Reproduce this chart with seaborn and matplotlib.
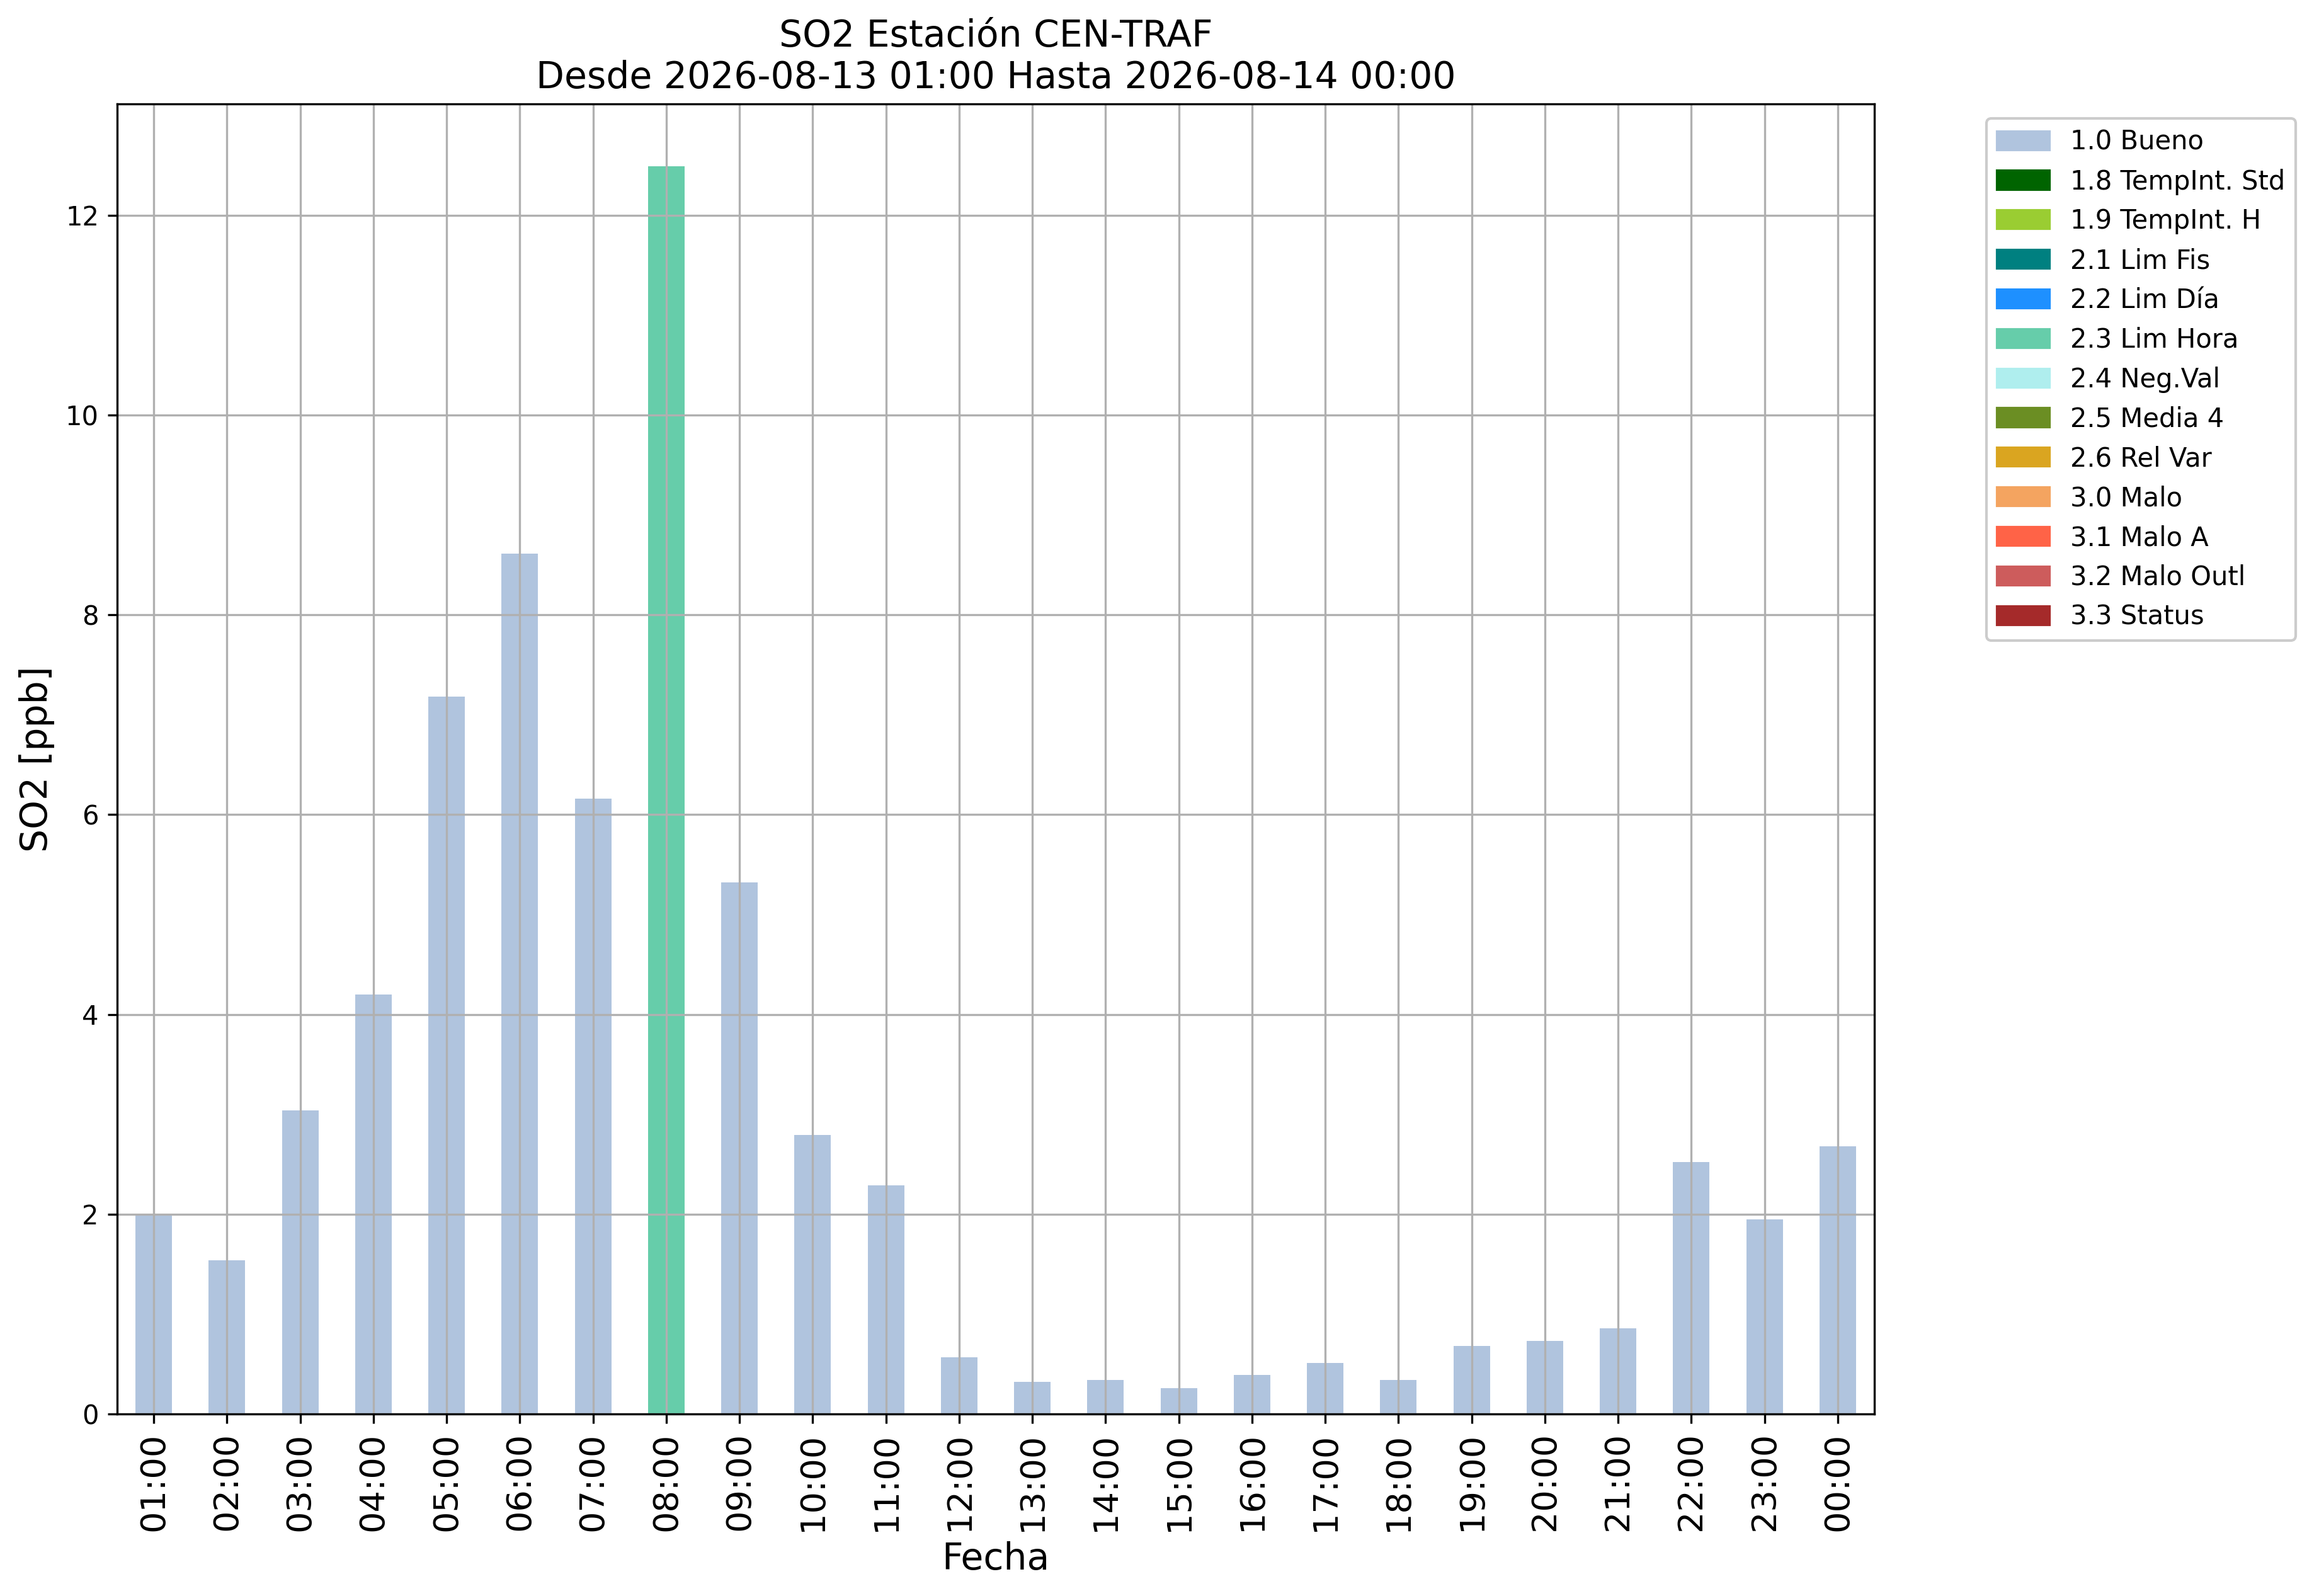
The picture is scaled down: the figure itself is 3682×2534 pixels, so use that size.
import matplotlib
matplotlib.use("Agg")
import matplotlib.pyplot as plt
import matplotlib.patches as mpatches
import pandas as pd
import seaborn as sns

# horas del periodo
horas = ["01:00", "02:00", "03:00", "04:00", "05:00", "06:00", "07:00", "08:00",
         "09:00", "10:00", "11:00", "12:00", "13:00", "14:00", "15:00", "16:00",
         "17:00", "18:00", "19:00", "20:00", "21:00", "22:00", "23:00", "00:00"]

so2 = [2.00, 1.54, 3.04, 4.20, 7.18, 8.61, 6.16, 12.49,
       5.32, 2.79, 2.29, 0.57, 0.32, 0.34, 0.26, 0.39,
       0.51, 0.34, 0.68, 0.73, 0.86, 2.52, 1.95, 2.68]

flags = ["1.0 Bueno"] * 7 + ["2.3 Lim Hora"] + ["1.0 Bueno"] * 16

etiquetas = ["1.0 Bueno", "1.8 TempInt. Std", "1.9 TempInt. H", "2.1 Lim Fis",
             "2.2 Lim Día", "2.3 Lim Hora", "2.4 Neg.Val", "2.5 Media 4",
             "2.6 Rel Var", "3.0 Malo", "3.1 Malo A", "3.2 Malo Outl", "3.3 Status"]

colores = ["lightsteelblue", "darkgreen", "yellowgreen", "teal",
           "dodgerblue", "mediumaquamarine", "paleturquoise", "olivedrab",
           "goldenrod", "sandybrown", "tomato", "indianred", "brown"]

df = pd.DataFrame({"Fecha": horas, "SO2": so2, "flag": flags})
paleta = dict(zip(etiquetas, colores))

W, H = 3682, 2534
fig = plt.figure(figsize=(W / 300, H / 300), dpi=300)
ax = fig.add_axes([186 / W, 1 - 2245 / H, (2976 - 186) / W, (2245 - 165) / H])

sns.barplot(data=df, x="Fecha", y="SO2", hue="flag", order=horas,
            hue_order=etiquetas, palette=paleta, dodge=False, width=0.5,
            saturation=1, legend=False, ax=ax)

ax.grid(True)
ax.set_xlim(-0.5, len(horas) - 0.5)
ax.tick_params(axis="x", labelrotation=90, labelsize=13)
ax.tick_params(axis="y", labelsize=10)
ax.set_xlabel("Fecha", fontsize=14)
ax.set_ylabel("SO2 [ppb]", fontsize=14)
ax.set_title("SO2 Estación CEN-TRAF\nDesde 2026-08-13 01:00 Hasta 2026-08-14 00:00",
             fontsize=14)

handles = [mpatches.Patch(color=c, label=l) for l, c in zip(etiquetas, colores)]
fig.legend(handles=handles, bbox_to_anchor=(3154 / W, 1 - 188 / H), loc="upper left",
           borderaxespad=0, fontsize=10, framealpha=1)

plt.savefig("out.png", dpi=300)
